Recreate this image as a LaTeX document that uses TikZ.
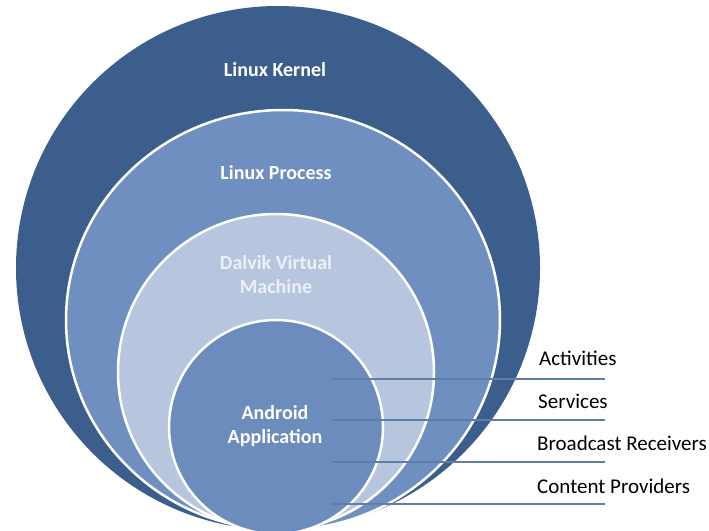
\documentclass[tikz,border=0pt]{standalone}
\usepackage{fontspec}
\setmainfont{Carlito}
\usetikzlibrary{shapes.geometric}
\definecolor{kernelblue}{RGB}{60,94,140}
\definecolor{procblue}{RGB}{111,143,192}
\definecolor{dalvikblue}{RGB}{184,197,222}
\definecolor{appblue}{RGB}{108,140,190}
\definecolor{lineblue}{RGB}{92,126,168}
\definecolor{dalviktext}{RGB}{236,240,247}
\begin{document}
\begin{tikzpicture}[x=1pt,y=-1pt,
  layer/.style={ellipse, draw=white, line width=2.5pt, inner sep=0pt, outer sep=0pt},
  intext/.style={text=white, font=\fontsize{20}{24}\selectfont\bfseries, align=center, inner sep=0pt},
  sidetext/.style={text=black, font=\fontsize{21}{24}\selectfont, anchor=west, inner sep=0pt},
  leader/.style={draw=lineblue, line width=1.2pt}]
\useasboundingbox (0,0) rectangle (709,530);
\clip (0,0) rectangle (709,530);
% nested layers
\node[layer, fill=kernelblue, draw=none, minimum width=524pt, minimum height=524pt] (kernel) at (278,268) {};
\node[layer, fill=procblue, minimum width=434pt, minimum height=420pt] (process) at (283,320) {};
\node[layer, fill=dalvikblue, minimum width=316pt, minimum height=316pt] (dalvik) at (276,372) {};
\node[layer, fill=appblue, minimum width=214pt, minimum height=214pt] (app) at (276,427) {};
% layer labels
\node[intext] (tkernel) at (275,70) {Linux Kernel};
\node[intext] (tprocess) at (276,173) {Linux Process};
\node[intext, text=dalviktext] (tdalvik) at (276,275) {Dalvik Virtual\\Machine};
\node[intext] (tapp) at (275,426) {Android\\Application};
% side labels
\node[sidetext] (act) at (539,358) {Activities};
\node[sidetext] (srv) at (538,401) {Services};
\node[sidetext] (brc) at (537,443) {Broadcast Receivers};
\node[sidetext] (cnt) at (537,486) {Content Providers};
% leader lines
\coordinate (a1) at (332,379); \coordinate (a2) at (605,379);
\coordinate (s1) at (332,420); \coordinate (s2) at (605,420);
\coordinate (b1) at (332,462); \coordinate (b2) at (605,462);
\coordinate (c1) at (332,504); \coordinate (c2) at (605,504);
\draw[leader] (a1) -- (a2);
\draw[leader] (s1) -- (s2);
\draw[leader] (b1) -- (b2);
\draw[leader] (c1) -- (c2);
\end{tikzpicture}
\end{document}
